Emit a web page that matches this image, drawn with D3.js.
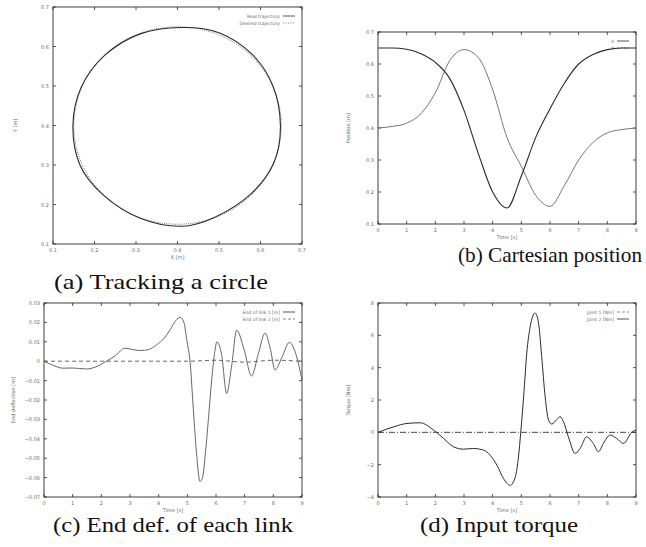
<!DOCTYPE html>
<html>
<head>
<meta charset="utf-8">
<script src="https://cdnjs.cloudflare.com/ajax/libs/d3/7.8.5/d3.min.js"></script>
<style>
  body { margin: 0; background: #fff; }
  text { font-family: "DejaVu Sans", sans-serif; }
  .cap { font-family: "Liberation Serif", "DejaVu Serif", serif; fill: #111; }
</style>
</head>
<body>
<div id="fig"></div>
<script>
// ---- data ----

// (a) circle tracking, X / Y in metres
var realX = [0.648, 0.630, 0.580, 0.500, 0.410, 0.310, 0.225, 0.168, 0.148, 0.165, 0.220, 0.310, 0.410, 0.490, 0.575, 0.632];
var realY = [0.400, 0.500, 0.580, 0.635, 0.648, 0.632, 0.578, 0.497, 0.400, 0.300, 0.225, 0.165, 0.145, 0.168, 0.225, 0.305];
var desX = [0.650, 0.631, 0.577, 0.496, 0.400, 0.304, 0.223, 0.169, 0.150, 0.169, 0.223, 0.304, 0.400, 0.496, 0.577, 0.631];
var desY = [0.400, 0.496, 0.577, 0.631, 0.650, 0.631, 0.577, 0.496, 0.400, 0.304, 0.223, 0.169, 0.150, 0.169, 0.223, 0.304];
var ticksA = [0.1, 0.2, 0.3, 0.4, 0.5, 0.6, 0.7];

// (b) cartesian position vs time
var timeB = [0, 0.5, 1, 1.5, 2, 2.5, 3, 3.5, 4, 4.5, 5, 5.5, 6, 6.5, 7, 7.5, 8, 8.5, 9];
var posX = [0.650, 0.650, 0.646, 0.632, 0.605, 0.555, 0.455, 0.320, 0.200, 0.150, 0.250, 0.370, 0.460, 0.540, 0.600, 0.630, 0.645, 0.650, 0.650];
var posY = [0.400, 0.405, 0.415, 0.445, 0.510, 0.610, 0.645, 0.620, 0.520, 0.370, 0.280, 0.190, 0.155, 0.220, 0.300, 0.355, 0.385, 0.395, 0.400];
var ticksBy = [0.1, 0.2, 0.3, 0.4, 0.5, 0.6, 0.7];
var ticksT = [0, 1, 2, 3, 4, 5, 6, 7, 8, 9];

// (c) end deflection of each link
var timeC = [0, 0.3, 0.66, 1.0, 1.48, 1.8, 2.18, 2.5, 2.82, 3.1, 3.35, 3.65, 3.93, 4.2, 4.4, 4.6, 4.75, 4.88, 4.98, 5.1,
             5.21, 5.33, 5.44, 5.53, 5.62, 5.74, 5.85, 5.95, 6.03, 6.2, 6.37, 6.55, 6.72, 6.98, 7.24, 7.48, 7.71, 7.9, 8.06, 8.3, 8.56, 8.8, 9.0];
var defl1 = [0, -0.002, -0.0036, -0.0035, -0.004, -0.003, 0, 0.003, 0.0067, 0.006, 0.0055, 0.006, 0.0085, 0.012, 0.0162, 0.021, 0.0226, 0.020, 0.011, -0.001,
             -0.025, -0.049, -0.062, -0.060, -0.049, -0.029, -0.0097, 0.004, 0.010, 0.003, -0.0166, -0.002, 0.016, 0.006, -0.0076, 0.004, 0.0145, 0.006, -0.0045, 0.002, 0.0097, 0.003, -0.0097];
var timeC2 = [0, 1, 2, 3, 4, 5, 6, 7, 8, 9];
var defl2 = [0, 0, 0, 0, 0, 0, 0.0005, -0.0005, 0.0005, 0];
var ticksCy = [-0.07, -0.06, -0.05, -0.04, -0.03, -0.02, -0.01, 0, 0.01, 0.02, 0.03];

// (d) input torque
var timeD = [0, 0.55, 1.01, 1.47, 1.94, 2.29, 2.64, 2.98, 3.33, 3.68, 3.91, 4.15, 4.38, 4.61, 4.79, 4.90, 4.98, 5.08, 5.19, 5.31, 5.48,
             5.60, 5.71, 5.83, 5.95, 6.06, 6.24, 6.35, 6.47, 6.64, 6.88, 7.05, 7.28, 7.51, 7.69, 7.86, 8.10, 8.33, 8.56, 8.85, 9.0];
var torque2 = [0, 0.34, 0.55, 0.59, 0.14, -0.38, -0.9, -1.04, -1.0, -1.1, -1.41, -2.04, -2.86, -3.28, -2.76, -1.52, 0, 2.21, 4.9, 6.55, 7.38,
               6.76, 4.69, 2.21, 0.76, 0.51, 0.8, 0.97, 0.66, -0.27, -1.31, -1.0, -0.28, -0.69, -1.2, -0.69, -0.17, -0.38, -0.69, 0, 0.14];
var timeD1 = [0, 1, 2, 3, 4, 5, 6, 7, 8, 9];
var torque1 = [0, 0, 0, 0, 0, 0, 0, 0, 0, 0];
var ticksDy = [-4, -2, 0, 2, 4, 6, 8];

var W = 646, H = 547;
var svg = d3.select("#fig").append("svg")
    .attr("width", W)
    .attr("height", H);

var ink = "#2a2a2a", faint = "#6a6a6a";

// Draws one boxed gnuplot-like panel and returns its scales
function panel(p) {
    var x = d3.scaleLinear().domain(p.xd).range([p.x0, p.x1]);
    var y = d3.scaleLinear().domain(p.yd).range([p.y1, p.y0]);
    var g = svg.append("g");

    g.append("rect")
        .attr("x", p.x0).attr("y", p.y0)
        .attr("width", p.x1 - p.x0).attr("height", p.y1 - p.y0)
        .attr("fill", "none").attr("stroke", ink).attr("stroke-width", 0.9);

    // inward ticks on all four sides
    p.xt.forEach(function(v) {
        g.append("line").attr("x1", x(v)).attr("x2", x(v)).attr("y1", p.y1).attr("y2", p.y1 - 3)
            .attr("stroke", ink).attr("stroke-width", 0.8);
        g.append("line").attr("x1", x(v)).attr("x2", x(v)).attr("y1", p.y0).attr("y2", p.y0 + 3)
            .attr("stroke", ink).attr("stroke-width", 0.8);
        g.append("text").attr("x", x(v)).attr("y", p.y1 + 8)
            .attr("text-anchor", "middle").attr("font-size", 5).attr("fill", faint)
            .text(p.xf(v));
    });
    p.yt.forEach(function(v) {
        g.append("line").attr("x1", p.x0).attr("x2", p.x0 + 3).attr("y1", y(v)).attr("y2", y(v))
            .attr("stroke", ink).attr("stroke-width", 0.8);
        g.append("line").attr("x1", p.x1).attr("x2", p.x1 - 3).attr("y1", y(v)).attr("y2", y(v))
            .attr("stroke", ink).attr("stroke-width", 0.8);
        g.append("text").attr("x", p.x0 - 4).attr("y", y(v) + 2)
            .attr("text-anchor", "end").attr("font-size", 5).attr("fill", faint)
            .text(p.yf(v));
    });

    g.append("text").attr("x", (p.x0 + p.x1) / 2).attr("y", p.y1 + 15)
        .attr("text-anchor", "middle").attr("font-size", 5).attr("fill", faint)
        .text(p.xlab);
    g.append("text")
        .attr("transform", "translate(" + p.ylx + "," + ((p.y0 + p.y1) / 2) + ") rotate(-90)")
        .attr("text-anchor", "middle").attr("font-size", 5).attr("fill", faint)
        .text(p.ylab);

    // legend, right aligned with short line samples
    p.legend.forEach(function(l, i) {
        var ly = p.y0 + 9 + i * 7;
        g.append("text").attr("x", p.x1 - 22).attr("y", ly + 1.5)
            .attr("text-anchor", "end").attr("font-size", 4.5).attr("fill", faint)
            .text(l.name);
        g.append("line").attr("x1", p.x1 - 19).attr("x2", p.x1 - 7).attr("y1", ly).attr("y2", ly)
            .attr("stroke", l.color).attr("stroke-width", 0.8)
            .attr("stroke-dasharray", l.dash || null);
    });

    // caption under the panel
    svg.append("text").attr("class", "cap")
        .attr("x", p.cap.x).attr("y", p.cap.y)
        .attr("text-anchor", "middle").attr("font-size", 21)
        .attr("textLength", p.cap.w).attr("lengthAdjust", "spacingAndGlyphs")
        .text(p.cap.text);

    return {g: g, x: x, y: y};
}

function series(P, xs, ys, opt, curve) {
    var pts = xs.map(function(v, i) { return [v, ys[i]]; });
    var line = d3.line()
        .x(function(d) { return P.x(d[0]); })
        .y(function(d) { return P.y(d[1]); })
        .curve(curve || d3.curveMonotoneX);
    P.g.append("path")
        .attr("d", line(pts))
        .attr("fill", "none")
        .attr("stroke", opt.color)
        .attr("stroke-width", opt.width || 1)
        .attr("stroke-dasharray", opt.dash || null);
}

var f1 = d3.format(".1f"), f0 = d3.format("d"), f2 = function(v) { return v === 0 ? "0" : d3.format(".2f")(v); };

// (a) Tracking a circle
var A = panel({
    x0: 53, x1: 302, y0: 7, y1: 244, xd: [0.1, 0.7], yd: [0.1, 0.7],
    xt: ticksA, yt: ticksA, xf: f1, yf: f1,
    xlab: "X [m]", ylab: "Y [m]", ylx: 17,
    legend: [{name: "Real trajectory", color: ink}, {name: "Desired trajectory", color: faint, dash: "1,1.5"}],
    cap: {x: 161, y: 289, w: 214, text: "(a) Tracking a circle"}
});
series(A, desX, desY, {color: faint, width: 0.9, dash: "1,1.2"}, d3.curveCardinalClosed);
series(A, realX, realY, {color: ink, width: 1.1}, d3.curveCardinalClosed);

// (b) Cartesian position
var B = panel({
    x0: 378, x1: 636, y0: 32, y1: 224, xd: [0, 9], yd: [0.1, 0.7],
    xt: ticksT, yt: ticksBy, xf: f0, yf: f1,
    xlab: "Time [s]", ylab: "Position [m]", ylx: 350,
    legend: [{name: "X", color: ink}, {name: "Y", color: faint, dash: "2,1.5"}],
    cap: {x: 550, y: 262, w: 184, text: "(b) Cartesian position"}
});
series(B, timeB, posY, {color: "#666", width: 0.9});
series(B, timeB, posX, {color: ink, width: 1.1});

// (c) End deflection of each link
var C = panel({
    x0: 44, x1: 302, y0: 303, y1: 497, xd: [0, 9], yd: [-0.07, 0.03],
    xt: ticksT, yt: ticksCy, xf: f0, yf: f2,
    xlab: "Time [s]", ylab: "End deflection [m]", ylx: 15,
    legend: [{name: "End of link 1 [m]", color: ink}, {name: "End of link 2 [m]", color: faint, dash: "3,2"}],
    cap: {x: 173, y: 532, w: 240, text: "(c) End def. of each link"}
});
series(C, timeC2, defl2, {color: "#555", width: 0.9, dash: "4,3"});
series(C, timeC, defl1, {color: "#555", width: 0.9});

// (d) Input torque
var D = panel({
    x0: 378, x1: 636, y0: 303, y1: 497, xd: [0, 9], yd: [-4, 8],
    xt: ticksT, yt: ticksDy, xf: f0, yf: f0,
    xlab: "Time [s]", ylab: "Torque [Nm]", ylx: 350,
    legend: [{name: "Joint 1 [Nm]", color: faint, dash: "3,2"}, {name: "Joint 2 [Nm]", color: ink}],
    cap: {x: 499, y: 532, w: 158, text: "(d) Input torque"}
});
series(D, timeD1, torque1, {color: "#333", width: 0.9, dash: "6,2,1,2"});
series(D, timeD, torque2, {color: ink, width: 1});
</script>
</body>
</html>
